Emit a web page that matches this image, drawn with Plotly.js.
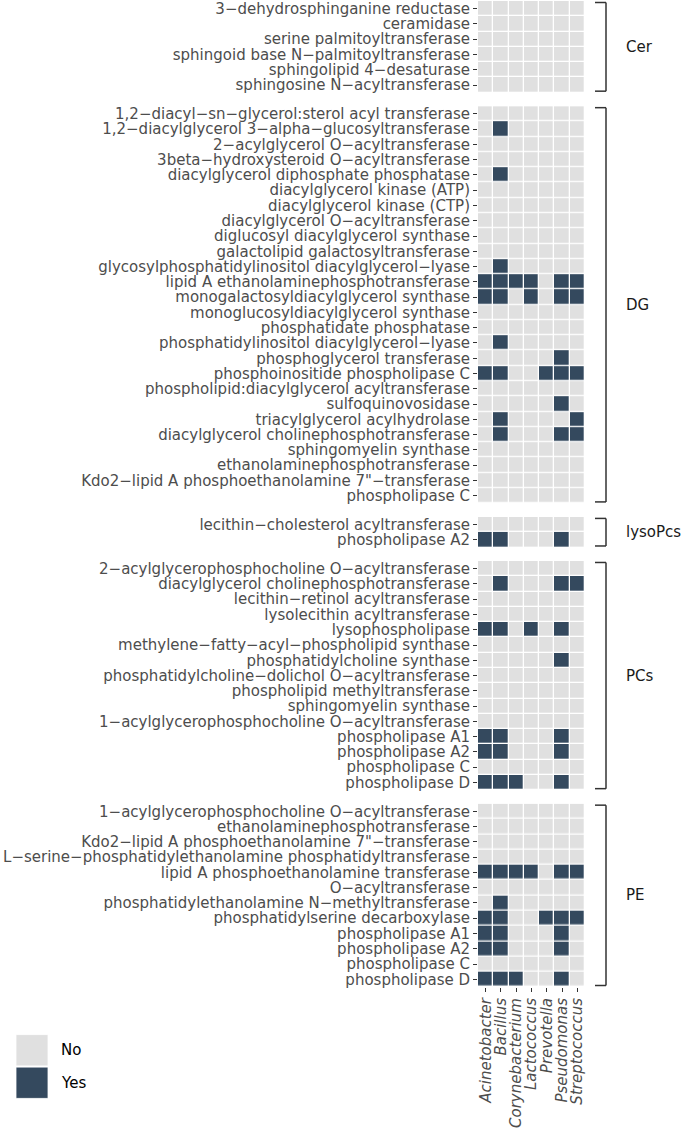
<!DOCTYPE html>
<html>
<head>
<meta charset="utf-8">
<script src="https://cdn.plot.ly/plotly-3.0.1.min.js"></script>
<style>
  html, body { margin: 0; padding: 0; background: #ffffff; }
  #chart { width: 685px; height: 1130px; }
</style>
</head>
<body>
<div id="chart"></div>
<script>
// ---------------- DATA ----------------
const genera = ['Acinetobacter', 'Bacillus', 'Corynebacterium', 'Lactococcus', 'Prevotella', 'Pseudomonas', 'Streptococcus'];

const panelNames = ['Cer', 'DG', 'lysoPcs', 'PCs', 'PE'];

const cerLabels = [
  '3−dehydrosphinganine reductase',
  'ceramidase',
  'serine palmitoyltransferase',
  'sphingoid base N−palmitoyltransferase',
  'sphingolipid 4−desaturase',
  'sphingosine N−acyltransferase'
];
const cerValues = [
  [0,0,0,0,0,0,0],
  [0,0,0,0,0,0,0],
  [0,0,0,0,0,0,0],
  [0,0,0,0,0,0,0],
  [0,0,0,0,0,0,0],
  [0,0,0,0,0,0,0]
];

const dgLabels = [
  '1,2−diacyl−sn−glycerol:sterol acyl transferase',
  '1,2−diacylglycerol 3−alpha−glucosyltransferase',
  '2−acylglycerol O−acyltransferase',
  '3beta−hydroxysteroid O−acyltransferase',
  'diacylglycerol diphosphate phosphatase',
  'diacylglycerol kinase (ATP)',
  'diacylglycerol kinase (CTP)',
  'diacylglycerol O−acyltransferase',
  'diglucosyl diacylglycerol synthase',
  'galactolipid galactosyltransferase',
  'glycosylphosphatidylinositol diacylglycerol−lyase',
  'lipid A ethanolaminephosphotransferase',
  'monogalactosyldiacylglycerol synthase',
  'monoglucosyldiacylglycerol synthase',
  'phosphatidate phosphatase',
  'phosphatidylinositol diacylglycerol−lyase',
  'phosphoglycerol transferase',
  'phosphoinositide phospholipase C',
  'phospholipid:diacylglycerol acyltransferase',
  'sulfoquinovosidase',
  'triacylglycerol acylhydrolase',
  'diacylglycerol cholinephosphotransferase',
  'sphingomyelin synthase',
  'ethanolaminephosphotransferase',
  'Kdo2−lipid A phosphoethanolamine 7"−transferase',
  'phospholipase C'
];
const dgValues = [
  [0,0,0,0,0,0,0],
  [0,1,0,0,0,0,0],
  [0,0,0,0,0,0,0],
  [0,0,0,0,0,0,0],
  [0,1,0,0,0,0,0],
  [0,0,0,0,0,0,0],
  [0,0,0,0,0,0,0],
  [0,0,0,0,0,0,0],
  [0,0,0,0,0,0,0],
  [0,0,0,0,0,0,0],
  [0,1,0,0,0,0,0],
  [1,1,1,1,0,1,1],
  [1,1,0,1,0,1,1],
  [0,0,0,0,0,0,0],
  [0,0,0,0,0,0,0],
  [0,1,0,0,0,0,0],
  [0,0,0,0,0,1,0],
  [1,1,0,0,1,1,1],
  [0,0,0,0,0,0,0],
  [0,0,0,0,0,1,0],
  [0,1,0,0,0,0,1],
  [0,1,0,0,0,1,1],
  [0,0,0,0,0,0,0],
  [0,0,0,0,0,0,0],
  [0,0,0,0,0,0,0],
  [0,0,0,0,0,0,0]
];

const lysoLabels = [
  'lecithin−cholesterol acyltransferase',
  'phospholipase A2'
];
const lysoValues = [
  [0,0,0,0,0,0,0],
  [1,1,0,0,0,1,0]
];

const pcLabels = [
  '2−acylglycerophosphocholine O−acyltransferase',
  'diacylglycerol cholinephosphotransferase',
  'lecithin−retinol acyltransferase',
  'lysolecithin acyltransferase',
  'lysophospholipase',
  'methylene−fatty−acyl−phospholipid synthase',
  'phosphatidylcholine synthase',
  'phosphatidylcholine−dolichol O−acyltransferase',
  'phospholipid methyltransferase',
  'sphingomyelin synthase',
  '1−acylglycerophosphocholine O−acyltransferase',
  'phospholipase A1',
  'phospholipase A2',
  'phospholipase C',
  'phospholipase D'
];
const pcValues = [
  [0,0,0,0,0,0,0],
  [0,1,0,0,0,1,1],
  [0,0,0,0,0,0,0],
  [0,0,0,0,0,0,0],
  [1,1,0,1,0,1,0],
  [0,0,0,0,0,0,0],
  [0,0,0,0,0,1,0],
  [0,0,0,0,0,0,0],
  [0,0,0,0,0,0,0],
  [0,0,0,0,0,0,0],
  [0,0,0,0,0,0,0],
  [1,1,0,0,0,1,0],
  [1,1,0,0,0,1,0],
  [0,0,0,0,0,0,0],
  [1,1,1,0,0,1,0]
];

const peLabels = [
  '1−acylglycerophosphocholine O−acyltransferase',
  'ethanolaminephosphotransferase',
  'Kdo2−lipid A phosphoethanolamine 7"−transferase',
  'L−serine−phosphatidylethanolamine phosphatidyltransferase',
  'lipid A phosphoethanolamine transferase',
  'O−acyltransferase',
  'phosphatidylethanolamine N−methyltransferase',
  'phosphatidylserine decarboxylase',
  'phospholipase A1',
  'phospholipase A2',
  'phospholipase C',
  'phospholipase D'
];
const peValues = [
  [0,0,0,0,0,0,0],
  [0,0,0,0,0,0,0],
  [0,0,0,0,0,0,0],
  [0,0,0,0,0,0,0],
  [1,1,1,1,0,1,1],
  [0,0,0,0,0,0,0],
  [0,1,0,0,0,0,0],
  [1,1,0,0,1,1,1],
  [1,1,0,0,0,1,0],
  [1,1,0,0,0,1,0],
  [0,0,0,0,0,0,0],
  [1,1,1,0,0,1,0]
];

const legendLabels = ['No', 'Yes'];

// ---------------- STYLE / LAYOUT ----------------
const W = 685, H = 1130;
const M = { l: 478, r: 100, t: 1, b: 143 };
const plotW = W - M.l - M.r;
const plotH = H - M.t - M.b;
const colNo = '#e0e0e0';
const colYes = '#34495e';
const FONT = 'DejaVu Sans';
const GAP = 13.5;

const panels = [
  { labels: cerLabels, values: cerValues },
  { labels: dgLabels, values: dgValues },
  { labels: lysoLabels, values: lysoValues },
  { labels: pcLabels, values: pcValues },
  { labels: peLabels, values: peValues }
];

const totalRows = panels.reduce((s, p) => s + p.labels.length, 0);
const rowH = (plotH - GAP * (panels.length - 1)) / totalRows;

const pxX = px => (px - M.l) / plotW;
const pxY = py => (M.t + plotH - py) / plotH;

const traces = [];
const layout = {
  width: W, height: H,
  margin: { l: M.l, r: M.r, t: M.t, b: M.b, pad: 0 },
  paper_bgcolor: '#ffffff',
  plot_bgcolor: '#ffffff',
  showlegend: false,
  font: { family: FONT, size: 15, color: '#4d4d4d' },
  shapes: [],
  annotations: [],
  xaxis: {
    type: 'category',
    domain: [0, 1],
    categoryorder: 'array',
    categoryarray: genera,
    tickmode: 'array',
    tickvals: genera,
    ticktext: genera,
    tickangle: -90,
    ticks: 'outside', ticklen: 4, tickwidth: 1, tickcolor: '#333333',
    tickfont: { family: FONT, size: 15, color: '#4d4d4d', style: 'italic' },
    showgrid: false, zeroline: false, showline: false,
    anchor: 'y' + panels.length,
    fixedrange: true
  }
};

let cursor = 0;
panels.forEach((p, i) => {
  const n = p.labels.length;
  const topPx = cursor;
  const botPx = cursor + n * rowH;
  cursor = botPx + GAP;
  const dom = [1 - botPx / plotH, 1 - topPx / plotH];
  const axName = i === 0 ? 'yaxis' : 'yaxis' + (i + 1);
  const ref = i === 0 ? 'y' : 'y' + (i + 1);
  layout[axName] = {
    type: 'category',
    domain: dom,
    anchor: 'x',
    autorange: 'reversed',
    categoryorder: 'array',
    categoryarray: p.labels,
    tickmode: 'array',
    tickvals: p.labels,
    ticktext: p.labels,
    ticks: 'outside', ticklen: 4, tickwidth: 1, tickcolor: '#333333',
    tickfont: { family: FONT, size: 15, color: '#4d4d4d' },
    showgrid: false, zeroline: false, showline: false,
    fixedrange: true
  };
  traces.push({
    type: 'heatmap',
    x: genera,
    y: p.labels,
    z: p.values,
    xaxis: 'x',
    yaxis: ref,
    zmin: 0, zmax: 1,
    colorscale: [[0, colNo], [0.5, colNo], [0.5, colYes], [1, colYes]],
    showscale: false,
    xgap: 1.3, ygap: 1.3,
    hoverinfo: 'x+y+z'
  });

  // bracket
  const inset = 1.5 / (n * rowH);
  const bx0 = pxX(595), bx1 = pxX(606);
  const lineStyle = { color: '#333333', width: 1.5 };
  const yr = ref + ' domain';
  layout.shapes.push(
    { type: 'line', xref: 'paper', yref: yr, x0: bx0, x1: bx1, y0: 1 - inset, y1: 1 - inset, line: lineStyle },
    { type: 'line', xref: 'paper', yref: yr, x0: bx1, x1: bx1, y0: 1 - inset, y1: inset, line: lineStyle },
    { type: 'line', xref: 'paper', yref: yr, x0: bx0, x1: bx1, y0: inset, y1: inset, line: lineStyle }
  );
  layout.annotations.push({
    text: panelNames[i],
    xref: 'paper', yref: yr,
    x: pxX(624), y: 0.5,
    xanchor: 'left', yanchor: 'middle',
    showarrow: false,
    font: { family: FONT, size: 15, color: '#1a1a1a' }
  });
});

// legend (keys drawn as shapes, text as annotations)
const keyX0 = 16, keyX1 = 48, keyTop = 1034, keyH = 32.5;
[colNo, colYes].forEach((c, k) => {
  const y0 = keyTop + k * keyH;
  layout.shapes.push({
    type: 'rect', xref: 'paper', yref: 'paper',
    x0: pxX(keyX0), x1: pxX(keyX1),
    y0: pxY(y0 + 0.6), y1: pxY(y0 + keyH - 0.6),
    fillcolor: c, line: { color: '#ffffff', width: 0.8 }
  });
  layout.annotations.push({
    text: legendLabels[k],
    xref: 'paper', yref: 'paper',
    x: pxX(59), y: pxY(y0 + keyH / 2),
    xanchor: 'left', yanchor: 'middle',
    showarrow: false,
    font: { family: FONT, size: 15, color: '#000000' }
  });
});

Plotly.newPlot('chart', traces, layout, { displayModeBar: false, staticPlot: true });
</script>
</body>
</html>
